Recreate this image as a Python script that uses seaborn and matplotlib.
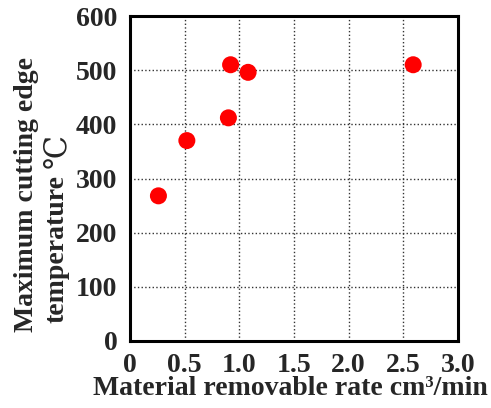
import matplotlib
matplotlib.use("Agg")
import matplotlib.pyplot as plt
import numpy as np
import pandas as pd
import seaborn as sns

# values
removal_rate = [0.26, 0.52, 0.90, 0.92, 1.08, 2.59]
max_temp = [268, 370, 412, 510, 496, 510]

x_ticks = [0, 0.5, 1.0, 1.5, 2.0, 2.5, 3.0]
x_tick_labels = ["0", "0.5", "1.0", "1.5", "2.0", "2.5", "3.0"]
y_ticks = [0, 100, 200, 300, 400, 500, 600]

df = pd.DataFrame({"rate": removal_rate, "temp": max_temp})

sns.set_style("white")
plt.rcParams["font.family"] = ["Liberation Serif", "DejaVu Serif"]
plt.rcParams["font.weight"] = "bold"

W, H = 491, 408
fig = plt.figure(figsize=(W / 100, H / 100), dpi=100)
ax = fig.add_axes([130 / W, 1 - 341 / H, 328 / W, 325 / H])

sns.scatterplot(data=df, x="rate", y="temp", ax=ax, color="#ff0000",
                s=150, edgecolor="none", zorder=3)

ax.set_xlim(0, 3.0)
ax.set_ylim(0, 600)
ax.set_xticks(x_ticks)
ax.set_xticklabels(x_tick_labels)
ax.set_yticks(y_ticks)
ax.grid(True, linestyle=":", color="#333333", linewidth=1.0)
ax.tick_params(axis="both", labelsize=20, length=0, pad=9)
for lab in ax.get_xticklabels() + ax.get_yticklabels():
    lab.set_fontweight("bold")
for sp in ax.spines.values():
    sp.set_linewidth(2.2)
    sp.set_color("black")

ax.set_xlabel("Material removable rate cm³/min", fontsize=20,
              fontweight="bold")
ax.xaxis.set_label_coords(160 / 328, -0.108)
ax.set_ylabel("")

# two-line y label, the degree sign drawn in regular weight as in the source
fig.text(33 / W, 1 - 194 / H, "Maximum cutting edge", rotation=90,
         rotation_mode="anchor", ha="center", va="baseline",
         fontsize=20, fontweight="bold")
fig.text(63 / W, 1 - 323 / H, "temperature", rotation=90,
         rotation_mode="anchor", ha="left", va="baseline",
         fontsize=20, fontweight="bold")
fig.text(65 / W, 1 - 168 / H, "℃", rotation=90,
         rotation_mode="anchor", ha="left", va="baseline",
         fontsize=22, fontweight="normal")

fig.savefig("out.png", dpi=100)
